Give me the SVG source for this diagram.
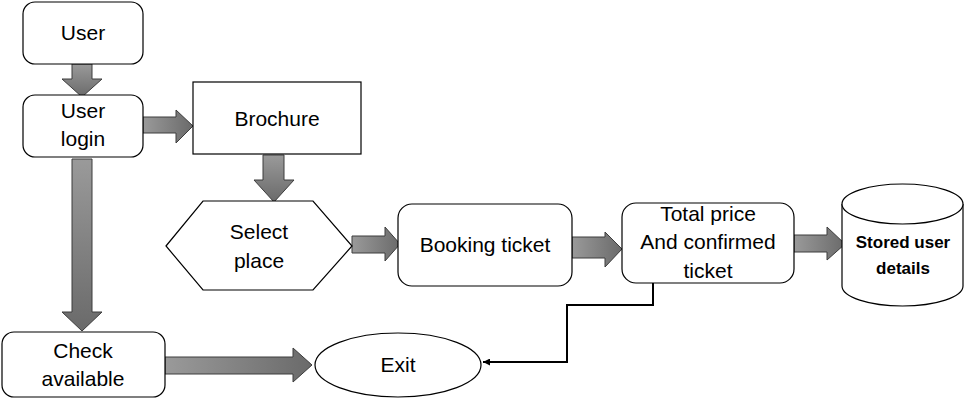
<svg xmlns="http://www.w3.org/2000/svg" width="972" height="400" viewBox="0 0 972 400">
<defs>
<linearGradient id="g" x1="0" y1="0" x2="0" y2="1"><stop offset="0" stop-color="#9a9a9a"/><stop offset="1" stop-color="#6a6a6a"/></linearGradient>
<linearGradient id="gh" x1="0" y1="0" x2="1" y2="0"><stop offset="0" stop-color="#9a9a9a"/><stop offset="1" stop-color="#6a6a6a"/></linearGradient>
<marker id="ah" viewBox="0 0 10 10" refX="10" refY="5" markerWidth="7" markerHeight="7" orient="auto" markerUnits="userSpaceOnUse"><path d="M0,0 L10,5 L0,10 z" fill="#000"/></marker>
<style>
.box{fill:#fff;stroke:#000;stroke-width:1.2}
.t{font-family:"Liberation Sans",Arial,sans-serif;font-size:21px;fill:#000;text-anchor:middle}
.b{font-family:"Liberation Sans",Arial,sans-serif;font-size:17px;font-weight:bold;fill:#000;text-anchor:middle}
.ar{fill:url(#gh);stroke:#3c3c3c;stroke-width:1}
.av{fill:url(#g);stroke:#3c3c3c;stroke-width:1}
</style>
</defs>
<rect width="972" height="400" fill="#fff"/>
<g id="connectors">
<path class="av" d="M72,64 H92 V79 H102 L82,97 L62,79 H72 Z"/>
<path class="ar" d="M143,117 H176 V110 L193,126 L176,143 V133 H143 Z"/>
<path class="av" d="M263,155 H284 V180 H294 L274,202 L254,180 H263 Z"/>
<path class="ar" d="M352,236 H385 V227 L400,244 L385,261 V253 H352 Z"/>
<path class="ar" d="M572,237 H605 V232 L622,249 L605,267 V258 H572 Z"/>
<path class="ar" d="M794,235 H827 V227 L845,244 L827,260 V252 H794 Z"/>
<path class="av" d="M72,159 H92 V312 H102 L82,331 L62,312 H72 Z"/>
<path class="ar" d="M165,357 H293 V348 L312,365 L293,382 V374 H165 Z"/>
<path d="M653,283 V305 H567 V362 H483" fill="none" stroke="#000" stroke-width="2" marker-end="url(#ah)"/>
</g>
<g id="user">
<rect class="box" x="23" y="2" width="120" height="62" rx="12"/>
<text class="t" x="83" y="40">User</text>
</g>
<g id="user-login">
<rect class="box" x="23" y="95" width="120" height="62" rx="12"/>
<text class="t" x="83" y="118">User</text>
<text class="t" x="83" y="146">login</text>
</g>
<g id="brochure">
<rect class="box" x="193" y="82" width="168" height="72"/>
<text class="t" x="277" y="126">Brochure</text>
</g>
<g id="select-place">
<polygon class="box" points="166,246 203,201 313,201 352,246 313,290 203,290"/>
<text class="t" x="259" y="239">Select</text>
<text class="t" x="259" y="268">place</text>
</g>
<g id="booking-ticket">
<rect class="box" x="398" y="204" width="174" height="82" rx="14"/>
<text class="t" x="485" y="252">Booking ticket</text>
</g>
<g id="total-price">
<rect class="box" x="622" y="203" width="172" height="80" rx="14"/>
<text class="t" x="708" y="221">Total price</text>
<text class="t" x="708" y="249">And confirmed</text>
<text class="t" x="708" y="278">ticket</text>
</g>
<g id="stored-user-details">
<path class="box" d="M842,204 V286 A60.5,20 0 0 0 963,286 V204"/>
<ellipse class="box" cx="902.5" cy="204" rx="60.5" ry="20"/>
<text class="b" x="903" y="248">Stored user</text>
<text class="b" x="903" y="274">details</text>
</g>
<g id="check-available">
<rect class="box" x="2" y="332" width="163" height="65" rx="12"/>
<text class="t" x="83" y="358">Check</text>
<text class="t" x="83" y="386">available</text>
</g>
<g id="exit">
<ellipse class="box" cx="398" cy="365" rx="83" ry="32"/>
<text class="t" x="398" y="372">Exit</text>
</g>
</svg>
